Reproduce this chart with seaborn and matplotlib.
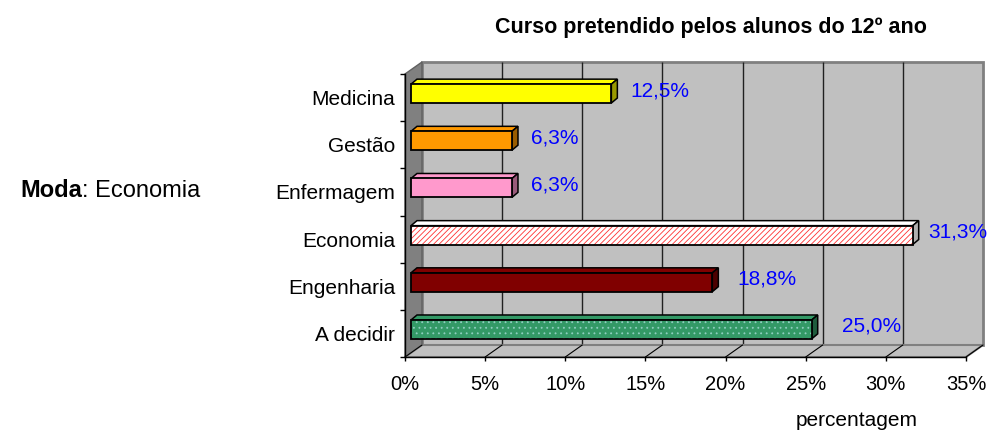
import matplotlib
matplotlib.use("Agg")
import matplotlib.pyplot as plt
import seaborn as sns
import pandas as pd
from matplotlib.patches import Polygon, Rectangle
from matplotlib.transforms import ScaledTranslation, IdentityTransform

# ---------------- data ----------------
categories = ["Medicina", "Gestão", "Enfermagem", "Economia", "Engenharia", "A decidir"]
percentages = [12.5, 6.3, 6.3, 31.3, 18.8, 25.0]
value_labels = ["12,5%", "6,3%", "6,3%", "31,3%", "18,8%", "25,0%"]
x_ticks = [0, 5, 10, 15, 20, 25, 30, 35]
x_tick_labels = ["0%", "5%", "10%", "15%", "20%", "25%", "30%", "35%"]
title_text = "Curso pretendido pelos alunos do 12º ano"
x_label_text = "percentagem"
moda_label = "Moda"
moda_value = ": Economia"

# ---------------- style ----------------
bar_colors = ["#FFFF00", "#FF9900", "#FF99CC", "#FFFFFF", "#800000", "#339966"]
side_colors = ["#999900", "#995C00", "#995A7A", "#B0B0B0", "#4D0000", "#1F5C3D"]
hatches = [None, None, None, "//////", None, "..."]
hatch_colors = [None, None, None, "#FF3030", None, "#8FCFC0"]

sns.set_theme(style="white")
plt.rcParams["font.family"] = ["Liberation Sans", "DejaVu Sans"]
plt.rcParams["hatch.linewidth"] = 0.6
plt.rcParams["text.color"] = "black"
plt.rcParams["xtick.color"] = "black"
plt.rcParams["ytick.color"] = "black"
plt.rcParams["xtick.labelcolor"] = "black"
plt.rcParams["ytick.labelcolor"] = "black"

W, H = 992, 430
DPI = 100
fig = plt.figure(figsize=(W / DPI, H / DPI), dpi=DPI)
fig.patch.set_facecolor("white")

# front plane of the 3D box (pixels, measured from top-left)
FX0, FX1, FY0, FY1 = 405, 966, 74, 357
ax = fig.add_axes([FX0 / W, 1 - FY1 / H, (FX1 - FX0) / W, (FY1 - FY0) / H])
ax.patch.set_alpha(0)
DX, DY = 17, 12          # depth of the box (px right, px up)
BDX, BDY = 6, 5          # depth of each bar
BOFF = (6, 4)            # bar front-face offset from front plane

df = pd.DataFrame({"curso": categories, "pct": percentages})
sns.barplot(data=df, x="pct", y="curso", hue="curso", palette=bar_colors,
            orient="h", width=0.4, legend=False, ax=ax, saturation=1,
            edgecolor="black", linewidth=1.3, zorder=5)
bars = list(ax.patches)
ax.set_xlim(0, 35)
ax.set_ylim(5.5, -0.5)
ax.set_autoscale_on(False)

off_back = ScaledTranslation(DX / DPI, DY / DPI, fig.dpi_scale_trans)
off_bar = ScaledTranslation(BOFF[0] / DPI, BOFF[1] / DPI, fig.dpi_scale_trans)

# back wall
ax.add_patch(Rectangle((0, 0), 1, 1, transform=ax.transAxes + off_back,
                       facecolor="#C0C0C0", edgecolor="#808080", lw=2,
                       zorder=0.1, clip_on=False))
# gridlines on back wall
ax.vlines(x_ticks[1:-1], 5.5, -0.5, colors="#202020", lw=1.0,
          transform=ax.transData + off_back, zorder=0.2, clip_on=False)

# left wall and floor (display coords)
(ax0, ay0), (ax1, ay1) = ax.transAxes.transform([(0, 0), (1, 1)])
left_wall = Polygon([(ax0, ay0), (ax0, ay1), (ax0 + DX, ay1 + DY), (ax0 + DX, ay0 + DY)],
                    closed=True, transform=IdentityTransform(), facecolor="#808080",
                    edgecolor="#606060", lw=1, zorder=0.3, clip_on=False)
ax.add_patch(left_wall)
floor = Polygon([(ax0, ay0), (ax1, ay0), (ax1 + DX, ay0 + DY), (ax0 + DX, ay0 + DY)],
                closed=True, transform=IdentityTransform(), facecolor="#C0C0C0",
                edgecolor="#808080", lw=1.5, zorder=0.3, clip_on=False)
ax.add_patch(floor)
for xt in x_ticks:
    px, py = ax.transData.transform((xt, 5.5))
    ax.plot([px, px + DX], [py, py + DY], color="black", lw=0.8,
            transform=IdentityTransform(), zorder=0.4, clip_on=False)

# 3D bars
for i, p in enumerate(bars):
    p.set_transform(ax.transData + off_bar)
    p.set_clip_on(False)
    trans = ax.transData + off_bar
    x0, y0 = p.get_x(), p.get_y()
    (a, b), (c, d) = trans.transform([(x0, y0), (x0 + p.get_width(), y0 + p.get_height())])
    L, R = min(a, c), max(a, c)
    B, T = min(b, d), max(b, d)
    top = Polygon([(L, T), (R, T), (R + BDX, T + BDY), (L + BDX, T + BDY)], closed=True,
                  transform=IdentityTransform(), facecolor=bar_colors[i],
                  edgecolor="black", lw=1.1, zorder=4, clip_on=False)
    side = Polygon([(R, B), (R, T), (R + BDX, T + BDY), (R + BDX, B + BDY)], closed=True,
                   transform=IdentityTransform(), facecolor=side_colors[i],
                   edgecolor="black", lw=1.1, zorder=4, clip_on=False)
    ax.add_patch(top)
    ax.add_patch(side)
    if hatches[i] is not None:
        p.set_edgecolor(hatch_colors[i])
        p.set_hatch(hatches[i])
        p.set_linewidth(0)
        ax.add_patch(Rectangle((x0, y0), p.get_width(), p.get_height(),
                               transform=ax.transData + off_bar, facecolor="none",
                               edgecolor="black", lw=1.3, zorder=6, clip_on=False))

# value labels (blue)
for i, (v, lab) in enumerate(zip(percentages, value_labels)):
    lx = min(2.68 + 1.057 * v, 34.5)
    ax.text(lx, i, lab, color="#0000FF", fontsize=15, ha="center", va="center",
            transform=ax.transData + ScaledTranslation(0, 7 / DPI, fig.dpi_scale_trans),
            zorder=7, clip_on=False)

# axes, ticks
for s in ["top", "right"]:
    ax.spines[s].set_visible(False)
for s in ["left", "bottom"]:
    ax.spines[s].set_color("black")
    ax.spines[s].set_linewidth(1.0)
    ax.spines[s].set_zorder(8)
ax.set_xticks(x_ticks)
ax.set_xticklabels(x_tick_labels, fontsize=14.5)
ax.set_yticks(range(len(categories)))
ax.set_yticklabels(categories, fontsize=15)
ax.set_yticks([k - 0.5 for k in range(len(categories) + 1)], minor=True)
ax.tick_params(axis="x", which="major", length=3, width=1, color="black", pad=10,
               direction="out", bottom=True, labelcolor="black")
ax.tick_params(axis="y", which="major", length=0, pad=7, left=False, labelcolor="black")
ax.tick_params(axis="y", which="minor", length=3.5, width=1, color="black", direction="out", left=True)
ax.set_xlabel("")
ax.set_ylabel("")
ax.grid(False)

# texts
fig.text(711 / W, 1 - 28 / H, title_text, ha="center", va="center",
         fontsize=15.5, fontweight="bold", color="black")
fig.text(857 / W, 1 - 420 / H, x_label_text, ha="center", va="center",
         fontsize=15, color="black")
t1 = fig.text(20 / W, 1 - 191 / H, moda_label, ha="left", va="center",
              fontsize=17, fontweight="bold", color="black")
fig.canvas.draw()
bb = t1.get_window_extent()
fig.text(bb.x1 / W, 1 - 191 / H, moda_value, ha="left", va="center",
         fontsize=17, color="black")

fig.savefig("out.png", dpi=DPI)
